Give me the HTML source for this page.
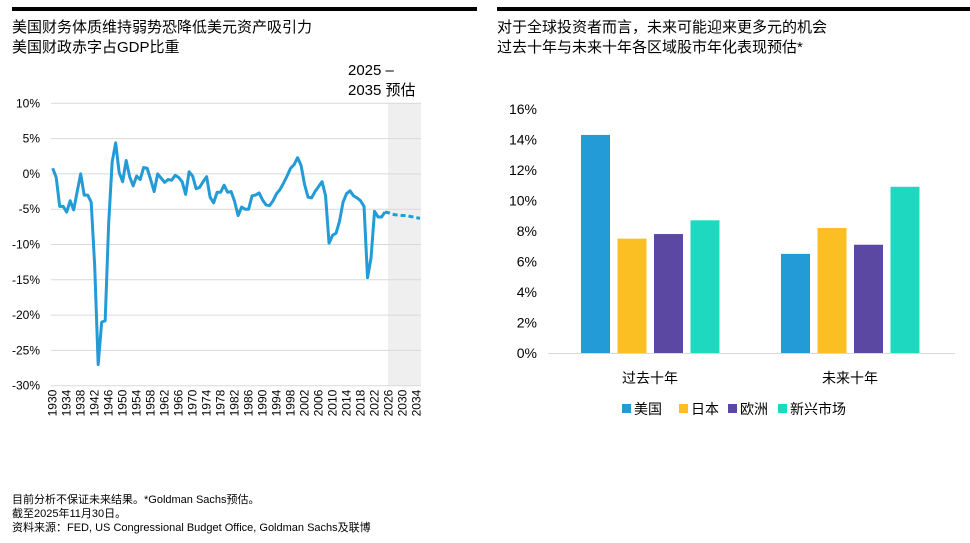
<!DOCTYPE html>
<html><head><meta charset="utf-8"><style>
body{margin:0;width:970px;height:543px;background:#fff;font-family:"Liberation Sans","Noto Sans CJK SC",sans-serif;color:#000;position:relative;overflow:hidden}
.t{position:absolute;white-space:nowrap}
svg{position:absolute;left:0;top:0}
</style></head><body>
<div style="position:absolute;left:12px;top:7px;width:465px;height:4px;background:#000"></div>
<div style="position:absolute;left:497px;top:7px;width:473px;height:4px;background:#000"></div>
<div class="t" style="left:12px;top:16px;font-size:15px">美国财务体质维持弱势恐降低美元资产吸引力</div>
<div class="t" style="left:12px;top:36px;font-size:15px">美国财政赤字占GDP比重</div>
<div class="t" style="left:497px;top:16px;font-size:15px">对于全球投资者而言，未来可能迎来更多元的机会</div>
<div class="t" style="left:497px;top:36px;font-size:15px">过去十年与未来十年各区域股市年化表现预估*</div>
<div class="t" style="left:348px;top:61px;font-size:15px;line-height:20px">2025 –<br>2035 预估</div>
<div class="t" style="left:12px;top:493px;font-size:11px;line-height:14px">目前分析不保证未来结果。*Goldman Sachs预估。<br>截至2025年11月30日。<br>资料来源：FED, US Congressional Budget Office, Goldman Sachs及联博</div>
<svg id="c" width="970" height="543"></svg>
<script>
const years=[];for(let y=1930;y<=2035;y++)years.push(y);
const deficit=[0.8,-0.5,-4.6,-4.6,-5.4,-3.8,-5.1,-2.5,0.0,-3.0,-3.0,-4.0,-13,-27,-21,-20.8,-7,1.7,4.4,0.2,-1.1,1.9,-0.4,-1.7,-0.3,-0.8,0.9,0.8,-0.8,-2.5,0.0,-0.6,-1.2,-0.8,-0.9,-0.2,-0.5,-1.1,-2.9,0.3,-0.3,-2.1,-1.9,-1.1,-0.4,-3.3,-4.1,-2.6,-2.6,-1.6,-2.6,-2.5,-3.9,-5.9,-4.7,-5.0,-5.0,-3.1,-3.0,-2.7,-3.7,-4.4,-4.5,-3.8,-2.8,-2.2,-1.3,-0.3,0.8,1.3,2.3,1.2,-1.5,-3.3,-3.4,-2.5,-1.8,-1.1,-3.1,-9.8,-8.7,-8.4,-6.7,-4.0,-2.8,-2.4,-3.1,-3.4,-3.8,-4.6,-14.7,-11.9,-5.3,-6.1,-6.1,-5.4,-5.5,-5.7,-5.8,-5.8,-5.9,-5.9,-6.0,-6.1,-6.2,-6.3];
const yTicks=[10,5,0,-5,-10,-15,-20,-25,-30];
const regions=["美国","日本","欧洲","新兴市场"];
const groups=["过去十年","未来十年"];
const past=[14.3,7.5,7.8,8.7];
const future=[6.5,8.2,7.1,10.9];
const rTicks=[0,2,4,6,8,10,12,14,16];
const colors=["#229bd6","#fbbf24","#5b48a2","#1fd8c0"];
const svg=document.getElementById('c');const NS='http://www.w3.org/2000/svg';
function mk(t,a,p){const e=document.createElementNS(NS,t);for(const k in a)e.setAttribute(k,a[k]);(p||svg).appendChild(e);return e;}
// left chart
const X0=52.7,X1=420,Y10=103.3,Ym30=385.7;
const lx=y=>X0+(y-1930)*(X1-X0)/105;
const ly=v=>Y10+(10-v)*(Ym30-Y10)/40;
let r=mk('rect',{x:lx(2026)-0.5,y:Y10,width:421-lx(2026)+0.5,height:Ym30-Y10,fill:'#efefef'});


yTicks.forEach(v=>{let l=mk('line',{x1:51,x2:421,y1:ly(v),y2:ly(v),stroke:'#d9d9d9','stroke-width':1});


let t=mk('text',{x:40,y:ly(v)+4,'text-anchor':'end','font-size':12});t.textContent=v+'%';

});
years.forEach(y=>{if((y-1930)%4)return;let t=mk('text',{transform:`translate(${lx(y)+4},${Ym30+4}) rotate(-90)`,'text-anchor':'end','font-size':12});t.textContent=y;

});
const hi=years.indexOf(2025);
let d1=years.slice(0,hi+1).map((y,i)=>(i?'L':'M')+lx(y)+','+ly(deficit[i])).join('');
let p1=mk('path',{d:d1,fill:'none',stroke:'#229bd6','stroke-width':3,'stroke-linejoin':'round'});


let d2=years.slice(hi).map((y,i)=>(i?'L':'M')+lx(y)+','+ly(deficit[hi+i])).join('');
let p2=mk('path',{d:d2,fill:'none',stroke:'#229bd6','stroke-width':3,'stroke-dasharray':'5,3'});


// right chart
const RY0=353,RY16=109;const ry=v=>RY0-v*(RY0-RY16)/16;
rTicks.forEach(v=>{let t=mk('text',{x:537,y:ry(v)+5,'text-anchor':'end','font-size':14});t.textContent=v+'%';

});
mk('line',{x1:548,x2:955,y1:RY0+0.5,y2:RY0+0.5,stroke:'#d9d9d9'});
const gx=[650,850];
[past,future].forEach((vals,g)=>{vals.forEach((v,i)=>{const x=gx[g]-69+i*36.5;
let b=mk('rect',{x:x,y:ry(v),width:29,height:RY0-ry(v),fill:colors[i]});

});
let t=mk('text',{x:gx[g],y:383,'text-anchor':'middle','font-size':14});t.textContent=groups[g];

});
let lxs=[622,679,728,778];
regions.forEach((n,i)=>{let s=mk('rect',{x:lxs[i],y:404,width:9,height:9,fill:colors[i]});


let t=mk('text',{x:lxs[i]+12,y:414,'font-size':14});t.textContent=n;

});
</script>
</body></html>
